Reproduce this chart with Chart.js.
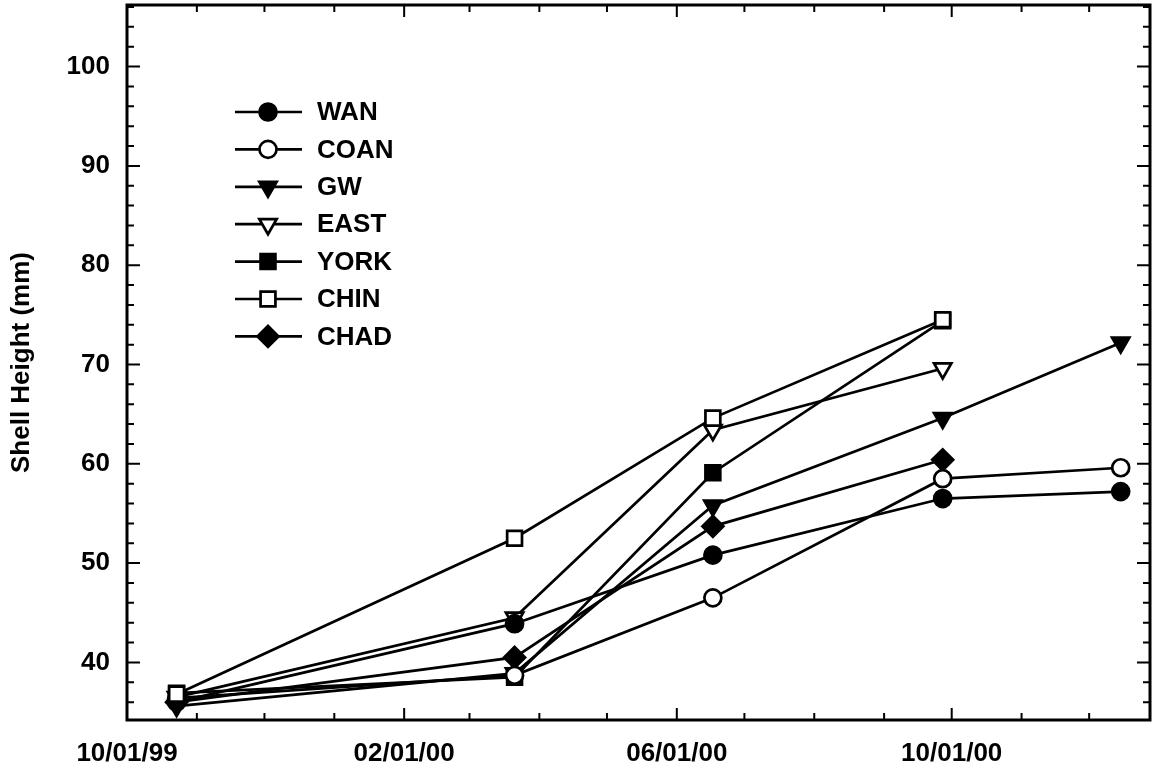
<!DOCTYPE html>
<html>
<head>
<meta charset="utf-8">
<script src="https://cdn.jsdelivr.net/npm/chart.js@4.4.0/dist/chart.umd.min.js"></script>
<style>
    html, body { margin: 0; padding: 0; background: #fff; }
    #wrap { width: 1154px; height: 770px; }
</style>
</head>
<body>
<div id="wrap"><canvas id="shellChart"></canvas></div>
<script>
// fechas de muestreo (eje x en días desde originDate)
const originDate = '1999-10-01';
const endDate = '2000-12-28';
const sampleDates = ['1999-10-23', '2000-03-21', '2000-06-17', '2000-09-27', '2000-12-15'];

const monthTickDates = ['1999-11-01', '1999-12-01', '2000-01-01', '2000-02-01', '2000-03-01',
    '2000-04-01', '2000-05-01', '2000-06-01', '2000-07-01', '2000-08-01', '2000-09-01',
    '2000-10-01', '2000-11-01', '2000-12-01'];
const labelTickDates = ['1999-10-01', '2000-02-01', '2000-06-01', '2000-10-01'];
const labelTickText = ['10/01/99', '02/01/00', '06/01/00', '10/01/00'];

const yLabelTicks = [40, 50, 60, 70, 80, 90, 100];
const yMin = 34.2;
const yMax = 106.2;

// altura de concha (mm) por sitio
const wan  = [36.0, 43.9, 50.8, 56.5, 57.2];
const coan = [36.4, 38.7, 46.5, 58.5, 59.6];
const gw   = [35.6, 38.9, 55.8, 64.6, 72.2];
const east = [36.5, 44.5, 63.4, 69.6];
const york = [36.9, 38.5, 59.1, 74.4];
const chin = [36.8, 52.5, 64.6, 74.5];
const chad = [36.0, 40.5, 53.7, 60.4];

const toDays = d => (Date.parse(d) - Date.parse(originDate)) / 86400000;
const sampleDays = sampleDates.map(toDays);
const monthTickDays = monthTickDates.map(toDays);
const labelTickDays = labelTickDates.map(toDays);

function series(label, values, style, filled, radius, rotation, order) {
    return {
        label: label,
        data: values.map((v, i) => ({ x: sampleDays[i], y: v })),
        borderColor: '#000',
        borderWidth: 2.7,
        pointStyle: style,
        pointRadius: radius,
        pointHoverRadius: radius,
        pointRotation: rotation || 0,
        pointBackgroundColor: filled ? '#000' : '#fff',
        pointBorderColor: '#000',
        pointBorderWidth: 2.7,
        tension: 0,
        fill: false,
        order: order || 0
    };
}

const datasets = [
    series('WAN', wan, 'circle', true, 8.5),
    series('COAN', coan, 'circle', false, 8.5),
    series('GW', gw, 'triangle', true, 10, 180),
    series('EAST', east, 'triangle', false, 10, 180),
    series('YORK', york, 'rect', true, 10.5),
    series('CHIN', chin, 'rect', false, 10.5, 0, -1),
    series('CHAD', chad, 'rectRot', true, 10.5)
];

// marco y marcas hacia adentro en los cuatro lados
const frameTicks = {
    id: 'frameTicks',
    afterDraw(chart) {
        const { ctx, chartArea: a, scales: { x, y } } = chart;
        ctx.save();
        ctx.strokeStyle = '#000';
        ctx.lineWidth = 2;
        ctx.beginPath();
        for (let v = 36; v <= 106; v += 2) {
            const py = y.getPixelForValue(v);
            const len = yLabelTicks.includes(v) ? 13 : 7;
            ctx.moveTo(a.left, py); ctx.lineTo(a.left + len, py);
            ctx.moveTo(a.right, py); ctx.lineTo(a.right - len, py);
        }
        monthTickDays.forEach(d => {
            const px = x.getPixelForValue(d);
            const len = labelTickDays.includes(d) ? 12 : 7;
            ctx.moveTo(px, a.bottom); ctx.lineTo(px, a.bottom - len);
            ctx.moveTo(px, a.top); ctx.lineTo(px, a.top + len);
        });
        ctx.stroke();
        ctx.lineWidth = 3;
        ctx.strokeRect(a.left, a.top, a.right - a.left, a.bottom - a.top);
        ctx.restore();
    }
};

// leyenda dentro del área del gráfico
const insideLegend = {
    id: 'insideLegend',
    afterDraw(chart) {
        const ctx = chart.ctx;
        ctx.save();
        ctx.font = 'bold 26px "Liberation Sans", Arial, sans-serif';
        ctx.textBaseline = 'middle';
        chart.data.datasets.forEach((ds, i) => {
            const yy = 112 + i * 37.4;
            ctx.strokeStyle = '#000';
            ctx.lineWidth = 2.7;
            ctx.beginPath();
            ctx.moveTo(235, yy);
            ctx.lineTo(302, yy);
            ctx.stroke();
            ctx.fillStyle = ds.pointBackgroundColor;
            Chart.helpers.drawPoint(ctx, {
                pointStyle: ds.pointStyle,
                radius: ds.pointRadius,
                rotation: ds.pointRotation,
                borderWidth: ds.pointBorderWidth
            }, 268, yy);
            ctx.fillStyle = '#000';
            ctx.fillText(ds.label, 317, yy + 1);
        });
        ctx.restore();
    }
};

const labelFont = { family: '"Liberation Sans", Arial, sans-serif', size: 26, weight: 'bold' };

new Chart(document.getElementById('shellChart'), {
    type: 'line',
    data: { datasets: datasets },
    options: {
        responsive: true,
        maintainAspectRatio: false,
        animation: false,
        layout: { autoPadding: false, padding: { top: 5, right: 4, left: 0, bottom: 0 } },
        plugins: {
            legend: { display: false },
            tooltip: { enabled: false }
        },
        scales: {
            x: {
                type: 'linear',
                min: 0,
                max: toDays(endDate),
                grid: { display: false, drawTicks: false },
                border: { display: false },
                afterBuildTicks: s => { s.ticks = labelTickDays.map(v => ({ value: v })); },
                afterFit: s => { s.height = 50; s.paddingLeft = 0; s.paddingRight = 0; },
                ticks: {
                    color: '#000',
                    font: labelFont,
                    padding: 18,
                    maxRotation: 0,
                    autoSkip: false,
                    callback: v => labelTickText[labelTickDays.indexOf(v)]
                }
            },
            y: {
                min: yMin,
                max: yMax,
                grid: { display: false, drawTicks: false },
                border: { display: false },
                afterBuildTicks: s => { s.ticks = yLabelTicks.map(v => ({ value: v })); },
                afterFit: s => { s.width = 127; s.paddingTop = 0; s.paddingBottom = 0; },
                ticks: { color: '#000', font: labelFont, padding: 17 },
                title: {
                    display: true,
                    text: 'Shell Height (mm)',
                    color: '#000',
                    font: labelFont,
                    padding: { top: 6, bottom: 0 }
                }
            }
        }
    },
    plugins: [frameTicks, insideLegend]
});
</script>
</body>
</html>
